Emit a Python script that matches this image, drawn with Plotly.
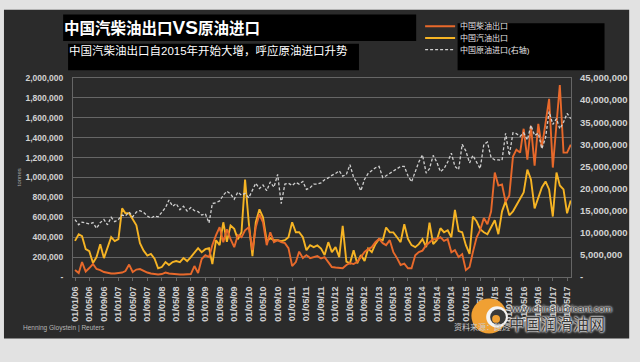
import pandas as pd
import plotly.graph_objects as go

# ---------------- data ----------------
months = pd.date_range("2006-01-01", periods=138, freq="MS")

# China diesel exports, thousand tonnes
diesel_kt = [
    70, 40, 150, 55, 90, 130, 80, 70, 50, 40, 35, 35,
    40, 45, 60, 125, 50, 75, 80, 60, 45, 35, 30, 25,
    30, 45, 35, 30, 30, 25, 25, 30, 30, 110, 40, 180,
    220, 200, 320, 420, 500, 350, 480, 380, 300, 420, 400, 470,
    500, 270, 500, 630, 550, 320, 450, 350, 370, 350, 340, 290,
    110, 150, 255, 190, 220, 190, 200, 210, 186, 200, 150, 100,
    95, 90, 88, 121, 140, 130, 154, 200, 252, 280, 300, 350,
    383, 340, 320, 370, 250, 190, 121, 135, 88, 88, 219, 250,
    265, 320, 350, 380, 380, 400, 363, 380, 248, 270, 200, 230,
    69, 100, 250, 396, 470, 592, 530, 657, 1050, 919, 930, 755,
    820, 1210, 1280, 1250, 1490, 1180, 1520, 1120, 1540, 1300, 1550, 1790,
    1100, 1500, 1930, 1250, 1250, 1330,
]

# China gasoline exports, thousand tonnes
gasoline_kt = [
    363, 430, 410, 280, 260, 140, 200, 330, 190, 300, 400, 360,
    380, 690, 640, 640, 578, 520, 340, 265, 216, 232, 184, 88,
    100, 150, 120, 150, 160, 150, 190, 160, 200, 240, 290, 250,
    280, 290, 130, 370, 320, 550, 353, 517, 484, 380, 450, 980,
    550, 210, 550, 680, 600, 360, 390, 370, 370, 360, 370, 400,
    550, 450, 450, 400, 270, 320, 300, 317, 285, 220, 350, 250,
    300, 200, 513, 154, 137, 268, 137, 220, 160, 285, 250, 330,
    383, 370, 497, 448, 448, 400, 350, 530, 383, 320, 300, 330,
    380, 300, 546, 330, 370, 490, 450, 470, 400, 674, 461, 450,
    320, 232, 608, 560, 480, 450, 430, 500, 570, 430, 660, 760,
    620, 660, 720, 790, 850, 1080, 980, 690, 800, 900, 960, 880,
    608, 1050, 920, 880, 640, 770,
]

# China crude oil imports, million tonnes (right axis)
crude_mt = [
    13.0, 11.8, 12.4, 12.2, 12.0, 12.3, 11.0, 12.3, 13.0, 11.8, 13.5, 12.5,
    13.0, 14.0, 13.8, 14.7, 13.6, 14.7, 15.0, 14.6, 13.8, 13.3, 13.8, 13.6,
    14.6, 15.7, 17.4, 16.0, 16.6, 15.2, 16.0, 14.9, 15.7, 15.0, 14.8, 14.0,
    14.3, 12.2, 16.6, 16.8, 17.2, 18.5, 19.4, 18.8, 17.6, 19.2, 18.5, 18.9,
    17.9, 19.6, 21.2, 20.0, 20.8, 19.5, 21.5, 20.3, 23.2, 16.6, 21.0, 21.2,
    20.7, 21.4, 21.0, 21.6, 19.8, 20.2, 21.0, 21.0, 21.3, 22.0, 22.4, 23.0,
    23.4, 24.0, 22.8, 23.2, 25.4, 22.5, 21.3, 19.5, 22.1, 23.4, 24.0, 24.7,
    25.0, 22.5, 22.9, 23.4, 24.0, 24.5, 25.0, 25.0, 22.9, 21.5, 24.0, 26.0,
    27.6, 23.5, 24.5, 27.5, 26.0, 23.8, 24.5, 26.0, 28.0, 25.0, 24.3, 30.0,
    28.5, 25.8, 27.5, 25.8, 24.5, 30.0, 30.5, 27.0, 26.5, 26.5, 26.4, 32.5,
    27.5, 32.6, 32.4, 31.8, 32.6, 31.0, 34.3, 32.0, 32.5, 29.0, 31.5, 37.4,
    34.5, 35.8, 33.5, 35.0, 37.0, 35.8,
]

left_tickvals = [0, 200000, 400000, 600000, 800000, 1000000, 1200000,
                 1400000, 1600000, 1800000, 2000000]
left_ticktext = ["-", "200,000", "400,000", "600,000", "800,000", "1,000,000",
                 "1,200,000", "1,400,000", "1,600,000", "1,800,000", "2,000,000"]
right_tickvals = [0, 5e6, 10e6, 15e6, 20e6, 25e6, 30e6, 35e6, 40e6, 45e6]
right_ticktext = ["-", "5,000,000", "10,000,000", "15,000,000", "20,000,000",
                  "25,000,000", "30,000,000", "35,000,000", "40,000,000",
                  "45,000,000"]

name_diesel = "中国柴油出口"
name_gasoline = "中国汽油出口"
name_crude = "中国原油进口(右轴)"
title_text = "中国汽柴油出口VS原油进口"
subtitle_text = "中国汽柴油出口自2015年开始大增，呼应原油进口升势"

# ---------------- layout helpers ----------------
W, H = 640, 362
L, R, T, B = 73, 62, 73, 85
PW, PH = W - L - R, H - T - B


def px(x):
    return (x - L) / PW


def py(y):
    return (H - B - y) / PH


FONT = "Liberation Sans, Arial, Noto Sans CJK SC, sans-serif"
TICK_COLOR = "#d2d2d2"
GRID = "#666666"
DARK = "#2b2b2b"

C_DIESEL = "#e8692b"
C_GAS = "#f6b424"
C_CRUDE = "#cfcfcf"

fig = go.Figure()
fig.add_trace(go.Scatter(
    x=months, y=[v * 1000 for v in gasoline_kt], name=name_gasoline,
    mode="lines", line=dict(color=C_GAS, width=1.9), legend="legend2"))
fig.add_trace(go.Scatter(
    x=months, y=[v * 1000 for v in diesel_kt], name=name_diesel,
    mode="lines", line=dict(color=C_DIESEL, width=1.9), legend="legend"))
fig.add_trace(go.Scatter(
    x=months, y=[v * 1e6 for v in crude_mt], name=name_crude, yaxis="y2",
    mode="lines", line=dict(color=C_CRUDE, width=1.3, dash="3px,2px"),
    legend="legend3"))

leg_common = dict(xanchor="left", yanchor="middle", bgcolor="rgba(0,0,0,0)",
                  borderwidth=0, font=dict(size=8, color="#e6e6e6", family=FONT),
                  itemwidth=30)

shapes = [
    # dark canvas
    dict(type="rect", xref="paper", yref="paper", layer="below",
         x0=px(3), x1=px(637), y0=py(340), y1=py(3),
         fillcolor=DARK, line=dict(width=0)),
    # title box
    dict(type="rect", xref="paper", yref="paper", layer="below",
         x0=px(63), x1=px(421), y0=py(35), y1=py(8),
         fillcolor="#000000", line=dict(width=0)),
    # subtitle box
    dict(type="rect", xref="paper", yref="paper", layer="below",
         x0=px(68), x1=px(363), y0=py(65), y1=py(38),
         fillcolor="#000000", line=dict(width=0)),
    # legend box
    dict(type="rect", xref="paper", yref="paper", layer="below",
         x0=px(463), x1=px(612), y0=py(65), y1=py(17),
         fillcolor="#000000", line=dict(width=0)),
    # watermark logo
    dict(type="circle", xref="paper", yref="paper", layer="above",
         x0=px(477), x1=px(513), y0=py(335), y1=py(299),
         fillcolor="#f0a033", line=dict(width=0)),
    dict(type="circle", xref="paper", yref="paper", layer="above",
         x0=px(492), x1=px(514), y0=py(329), y1=py(307),
         fillcolor="#f4f4f4", line=dict(width=0)),
    dict(type="circle", xref="paper", yref="paper", layer="above",
         x0=px(496), x1=px(512), y0=py(326), y1=py(310),
         fillcolor="#3a3a3a", line=dict(width=0)),
    dict(type="circle", xref="paper", yref="paper", layer="above",
         x0=px(498), x1=px(506), y0=py(324), y1=py(316),
         fillcolor="#f0a033", line=dict(width=0)),
]

title_html = "<b>" + title_text.replace(
    "VS", "<span style='font-size:19px'>VS</span>") + "</b>"

annotations = [
    dict(text=title_html, x=px(62), y=py(21), xref="paper",
         yref="paper", xanchor="left", yanchor="middle", showarrow=False,
         font=dict(size=15.5, color="#ffffff", family=FONT)),
    dict(text=subtitle_text, x=px(67), y=py(45), xref="paper", yref="paper",
         xanchor="left", yanchor="middle", showarrow=False,
         font=dict(size=11.5, color="#ffffff", family=FONT)),
    dict(text="tonnes", x=px(18), y=py(175), xref="paper", yref="paper",
         textangle=-90, showarrow=False, xanchor="center", yanchor="middle",
         font=dict(size=6, color="#aaaaaa", family=FONT)),
    dict(text="Henning Gloystein | Reuters", x=px(20), y=py(329), xref="paper",
         yref="paper", xanchor="left", yanchor="middle", showarrow=False,
         font=dict(size=6.5, color="#b5b5b5", family=FONT)),
    dict(text="资料来源：路透", x=px(457), y=py(328), xref="paper",
         yref="paper", xanchor="left", yanchor="middle", showarrow=False,
         font=dict(size=8, color="#cccccc", family=FONT)),
    dict(text="www.chinalubricant.com", x=px(513), y=py(309), xref="paper",
         yref="paper", xanchor="left", yanchor="middle", showarrow=False,
         font=dict(size=9.5, color="#333333", family=FONT,
                   shadow="0 0 2px #ffffff, 0 0 2px #ffffff, 0 0 3px #ffffff")),
    dict(text="中国润滑油网", x=px(513), y=py(326), xref="paper",
         yref="paper", xanchor="left", yanchor="middle", showarrow=False,
         font=dict(size=16, color="#3a3a3a", family=FONT,
                   shadow="0 0 2px #ffffff, 0 0 2px #ffffff, 0 0 3px #ffffff")),
]

fig.update_layout(
    width=W, height=H,
    margin=dict(l=L, r=R, t=T, b=B, pad=0),
    paper_bgcolor="#e2e2e2",
    plot_bgcolor="#272727",
    font=dict(family=FONT, color=TICK_COLOR),
    showlegend=True,
    legend=dict(x=px(425), y=py(20), **leg_common),
    legend2=dict(x=px(425), y=py(32), **leg_common),
    legend3=dict(x=px(425), y=py(44), **leg_common),
    xaxis=dict(
        type="date", range=["2005-12-15", "2017-06-03"],
        tick0="2006-01-01", dtick="M4", tickformat="%d/%m/%y",
        tickangle=-90, showgrid=False, zeroline=False,
        showline=True, linecolor=GRID, linewidth=1, mirror=True,
        ticks="outside", ticklen=3, tickcolor=GRID, ticklabelstandoff=2,
        tickfont=dict(size=9, color=TICK_COLOR, family=FONT, weight="bold"),
    ),
    yaxis=dict(
        range=[0, 2000000], tickvals=left_tickvals, ticktext=left_ticktext,
        showgrid=True, gridcolor=GRID, gridwidth=1, zeroline=False,
        showline=True, linecolor=GRID, linewidth=1, mirror=True,
        ticks="", ticklabelstandoff=7,
        tickfont=dict(size=8.5, color=TICK_COLOR, family=FONT, weight="bold"),
    ),
    yaxis2=dict(
        range=[0, 45000000], tickvals=right_tickvals, ticktext=right_ticktext,
        overlaying="y", side="right", showgrid=False, zeroline=False,
        showline=False, ticks="", ticklabelstandoff=8,
        tickfont=dict(size=9.5, color=TICK_COLOR, family=FONT, weight="bold"),
    ),
    shapes=shapes,
    annotations=annotations,
)

fig.write_html(
    "out.html",
    config={"displayModeBar": False},
    post_script="document.body.style.margin='0';document.body.style.overflow='hidden';",
)
